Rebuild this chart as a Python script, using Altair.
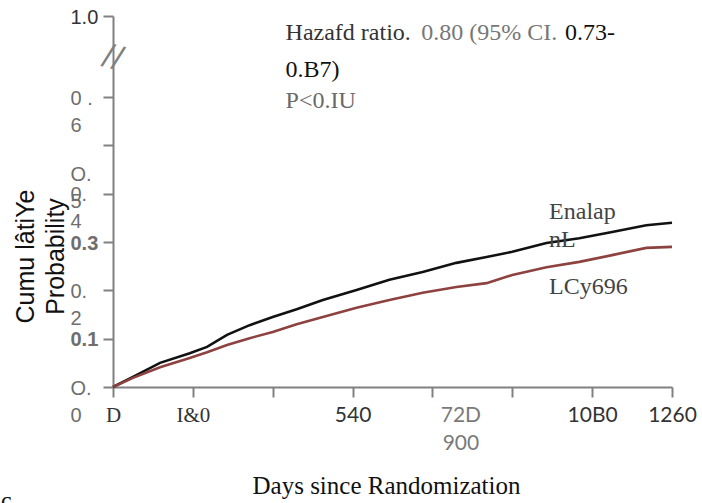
import json
import altair as alt
import pandas as pd

# ---- data ----
DAYS = [0, 45, 106, 173, 212, 257, 308, 360, 414, 473, 549, 623, 698, 774, 842, 900, 977, 1051, 1125, 1202, 1260]
ENALAPRIL = [0, 0.021, 0.050, 0.070, 0.083, 0.108, 0.128, 0.145, 0.161, 0.180, 0.201, 0.222, 0.238, 0.257,
             0.269, 0.280, 0.298, 0.308, 0.321, 0.335, 0.340]
LCZ696 = [0, 0.019, 0.041, 0.060, 0.072, 0.087, 0.101, 0.114, 0.130, 0.145, 0.164, 0.180, 0.195, 0.207,
          0.215, 0.232, 0.248, 0.259, 0.273, 0.288, 0.290]

X_TICKS = [0, 180, 360, 540, 720, 900, 1080, 1260]
X_LABELS = ["D", "I&0", "", "540", ["72D", "900"], "", "10B0", "1260"]
Y_TICKS = [0, 0.1, 0.2, 0.3, 0.4, 0.5, 0.6, 0.768]
Y_LABELS = [["O.", "0"], "0.1", ["0.", "2"], "0.3", ["0.", "4"], ["O.", "5"], ["0 .", "6"], "1.0"]

ANNOT_TEXT = ["Hazafd ratio.", "0.80 (95% CI.", "0.73-", "0.B7)", "P<0.IU", "Enalap", "nL", "LCy696"]
ANNOT_DAY = [389, 695, 1019, 389, 389, 983, 983, 983]
ANNOT_PROB = [0.733, 0.733, 0.733, 0.656, 0.592, 0.362, 0.304, 0.207]
ANNOT_COLOR = ["#333333", "#777777", "#111111", "#111111", "#6a6a6a", "#444444", "#444444", "#444444"]

X_TITLE = "Days since Randomization"
Y_TITLE = ["Cumu lâtiYe", "Probability"]
CORNER_TEXT = "c"


def label_expr(values, labels):
    expr = json.dumps(labels[-1])
    for v, lab in reversed(list(zip(values[:-1], labels[:-1]))):
        expr = f"abs(datum.value - {v}) < 1e-6 ? {json.dumps(lab)} : ({expr})"
    return expr


lines = pd.DataFrame({
    "day": DAYS * 2,
    "prob": ENALAPRIL + LCZ696,
    "group": ["Enalapril"] * len(DAYS) + ["LCZ696"] * len(DAYS),
})
annot = pd.DataFrame({"day": ANNOT_DAY, "prob": ANNOT_PROB, "text": ANNOT_TEXT, "color": ANNOT_COLOR})
brk = pd.DataFrame({"day": [0], "prob": [0.683], "text": ["//"]})
corner = pd.DataFrame({"text": [CORNER_TEXT]})

x_scale = alt.Scale(domain=[0, 1260], nice=False, zero=False)
y_scale = alt.Scale(domain=[0, 0.768], nice=False, zero=False)

x_axis = alt.Axis(
    values=X_TICKS, labelExpr=label_expr(X_TICKS, X_LABELS),
    title=X_TITLE, titleFont="Liberation Serif", titleFontSize=25, titleFontWeight="normal",
    titleColor="#111111", titleX=273, titleY=98, titleBaseline="middle", titleAnchor="start", titleAlign="center",
    domainColor="#808080", domainWidth=2, tickColor="#808080", tickWidth=2, tickSize=10,
    labelFont={"condition": {"test": "datum.value < 360", "value": "Liberation Serif"}, "value": "Lato"},
    labelFontSize=21, labelPadding=7, labelLineHeight=28, labelFlush=False, labelOverlap=False,
    labelColor={"condition": {"test": "datum.value == 720", "value": "#7a7a7a"}, "value": "#333333"},
    labelOffset={"condition": {"test": "datum.value == 720", "value": 28}, "value": 0},
    grid=False,
)
y_axis = alt.Axis(
    values=Y_TICKS, labelExpr=label_expr(Y_TICKS, Y_LABELS),
    title=Y_TITLE, titleFont="Liberation Sans", titleFontSize=25, titleFontWeight="normal",
    titleColor="#111111", titleAngle=-90, titleX=-88, titleY=240, titleAlign="center",
    titleBaseline="middle", titleLineHeight=30, titleAnchor="start",
    domainColor="#808080", domainWidth=2, tickColor="#808080", tickWidth=2, tickSize=10,
    labelFont="Liberation Sans", labelFontSize=20, labelAlign="left", labelBaseline="top",
    labelPadding=33, labelLineHeight=27, labelFlush=False, labelOverlap=False,
    labelColor={"condition": {"test": "datum.value > 0.7", "value": "#333333"}, "value": "#6e6e6e"},
    labelFontWeight={"condition": {"test": "abs(datum.value - 0.1) < 1e-6 || abs(datum.value - 0.3) < 1e-6",
                                   "value": "bold"}, "value": "normal"},
    labelOffset={"condition": {"test": "abs(datum.value - 0.5) < 1e-6", "value": 19}, "value": -9},
    grid=False,
)

line_chart = alt.Chart(lines).mark_line(strokeWidth=2.6).encode(
    x=alt.X("day:Q", scale=x_scale, axis=x_axis),
    y=alt.Y("prob:Q", scale=y_scale, axis=y_axis),
    color=alt.Color("group:N", scale=alt.Scale(domain=["Enalapril", "LCZ696"], range=["#111111", "#8e4240"]),
                    legend=None),
)

text_chart = alt.Chart(annot).mark_text(
    font="Liberation Serif", fontSize=24, align="left", baseline="middle"
).encode(
    x=alt.X("day:Q", scale=x_scale),
    y=alt.Y("prob:Q", scale=y_scale),
    text="text:N",
    color=alt.Color("color:N", scale=None),
)

brk_chart = alt.Chart(brk).mark_text(
    font="DejaVu Sans", fontSize=30, angle=15, color="#808080", align="center", baseline="middle"
).encode(
    x=alt.X("day:Q", scale=x_scale),
    y=alt.Y("prob:Q", scale=y_scale),
    text="text:N",
)

corner_chart = alt.Chart(corner).mark_text(
    font="Liberation Serif", fontSize=24, align="left", baseline="alphabetic", color="#111111"
).encode(
    x=alt.value(-112), y=alt.value(492), text="text:N",
)

chart = alt.layer(line_chart, text_chart, brk_chart, corner_chart).properties(
    width=559, height=371,
    autosize=alt.AutoSizeParams(type="none"),
    padding={"left": 113, "top": 16, "right": 30, "bottom": 116},
    background="white",
).configure_view(stroke=None)

chart.save("out.html", embed_options={"renderer": "svg", "actions": False})
